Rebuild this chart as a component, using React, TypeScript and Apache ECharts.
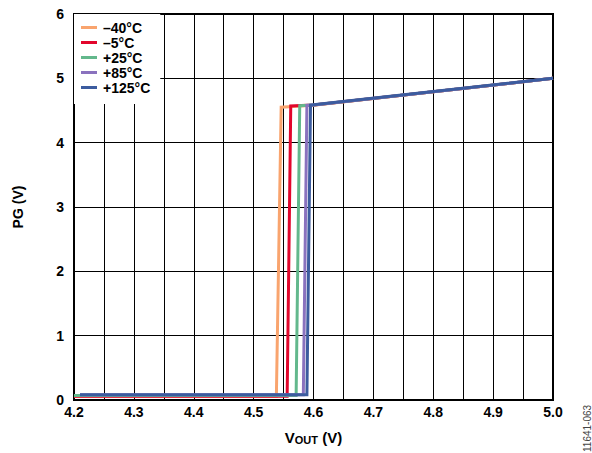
import React, { useEffect, useRef } from "react";
import * as echarts from "echarts";

const seriesNames = ["\u201340\u00b0C", "\u20135\u00b0C", "+25\u00b0C", "+85\u00b0C", "+125\u00b0C"];
const seriesColors = ["#F9A46E", "#E2062C", "#63B88C", "#8A72BE", "#3C5C9F"];

// [VOUT, PG] points per temperature
const m40: number[][] = [[4.2, 0.06], [4.538, 0.06], [4.546, 4.55], [4.6, 4.58], [4.8, 4.79], [5.0, 5.0]];
const m5: number[][] = [[4.2, 0.06], [4.556, 0.06], [4.562, 4.57], [4.6, 4.585], [4.8, 4.79], [5.0, 5.0]];
const p25: number[][] = [[4.2, 0.07], [4.571, 0.07], [4.577, 4.575], [4.6, 4.585], [4.8, 4.79], [5.0, 5.0]];
const p85: number[][] = [[4.21, 0.08], [4.583, 0.08], [4.589, 4.58], [4.6, 4.585], [4.8, 4.79], [5.0, 5.0]];
const p125: number[][] = [[4.21, 0.08], [4.589, 0.08], [4.595, 4.585], [4.6, 4.59], [4.8, 4.795], [5.0, 5.0]];
const seriesData = [m40, m5, p25, p85, p125];

const xTicks = { min: 4.2, max: 5.0, interval: 0.1 };
const yTicks = { min: 0, max: 6, interval: 1 };

const FONT = "'Liberation Sans', Arial, Helvetica, sans-serif";

export default function App() {
  const ref = useRef<HTMLDivElement>(null);
  useEffect(() => {
    document.body.style.margin = "0";
    const chart = echarts.init(ref.current!, null, { renderer: "svg" });
    chart.setOption({
      animation: false,
      backgroundColor: "#ffffff",
      textStyle: { fontFamily: FONT },
      grid: {
        left: 74,
        right: 39,
        top: 14,
        bottom: 53,
        show: true,
        borderColor: "#000",
        borderWidth: 2,
        containLabel: false,
      },
      legend: {
        show: true,
        orient: "vertical",
        left: 74,
        top: 14,
        padding: [6, 10, 9, 7],
        backgroundColor: "#ffffff",
        itemGap: 0,
        itemWidth: 16,
        itemHeight: 3,
        icon: "rect",
        data: seriesNames,
        textStyle: {
          fontFamily: FONT,
          fontWeight: "bold",
          fontSize: 14,
          color: "#000",
          lineHeight: 15,
          padding: [0, 0, 0, 1],
        },
      },
      xAxis: {
        type: "value",
        min: xTicks.min,
        max: xTicks.max,
        interval: xTicks.interval,
        name: "{a|V}{b|OUT}{a| (V)}",
        nameLocation: "middle",
        nameGap: 28,
        nameTextStyle: {
          rich: {
            a: { fontFamily: FONT, fontWeight: "bold", fontSize: 15, color: "#000", lineHeight: 18 },
            b: { fontFamily: FONT, fontWeight: "bold", fontSize: 11, color: "#000", lineHeight: 18, padding: [6, 0, 0, 0] },
          },
        },
        axisLine: { show: true, onZero: false, lineStyle: { color: "#000", width: 2 } },
        axisTick: { show: false },
        minorTick: { show: false, splitNumber: 2 },
        axisLabel: {
          fontFamily: FONT,
          fontWeight: "bold",
          fontSize: 14,
          color: "#000",
          margin: 5,
          formatter: (v: number) => v.toFixed(1),
        },
        splitLine: { show: true, lineStyle: { color: "#000", width: 1 } },
        minorSplitLine: { show: true, lineStyle: { color: "#000", width: 1 } },
      },
      yAxis: {
        type: "value",
        min: yTicks.min,
        max: yTicks.max,
        interval: yTicks.interval,
        name: "PG (V)",
        nameLocation: "middle",
        nameGap: 49,
        nameRotate: 90,
        nameTextStyle: { fontFamily: FONT, fontWeight: "bold", fontSize: 14, color: "#000" },
        axisLine: { show: true, lineStyle: { color: "#000", width: 2 } },
        axisTick: { show: false },
        axisLabel: { fontFamily: FONT, fontWeight: "bold", fontSize: 14, color: "#000", margin: 10 },
        splitLine: { show: true, lineStyle: { color: "#000", width: 1 } },
      },
      series: seriesNames.map((name, i) => ({
        name,
        type: "line",
        data: seriesData[i],
        showSymbol: false,
        symbol: "none",
        color: seriesColors[i],
        lineStyle: { color: seriesColors[i], width: 3, join: "miter" },
        z: 3 + i,
      })),
      graphic: [
        {
          type: "text",
          x: 582,
          y: 452,
          rotation: Math.PI / 2,
          style: { text: "11641-063", fontFamily: FONT, fontSize: 10, fill: "#444" },
        },
      ],
    });
    return () => chart.dispose();
  }, []);
  return <div ref={ref} style={{ width: 592, height: 453, position: "fixed", left: 0, top: 0 }} />;
}
